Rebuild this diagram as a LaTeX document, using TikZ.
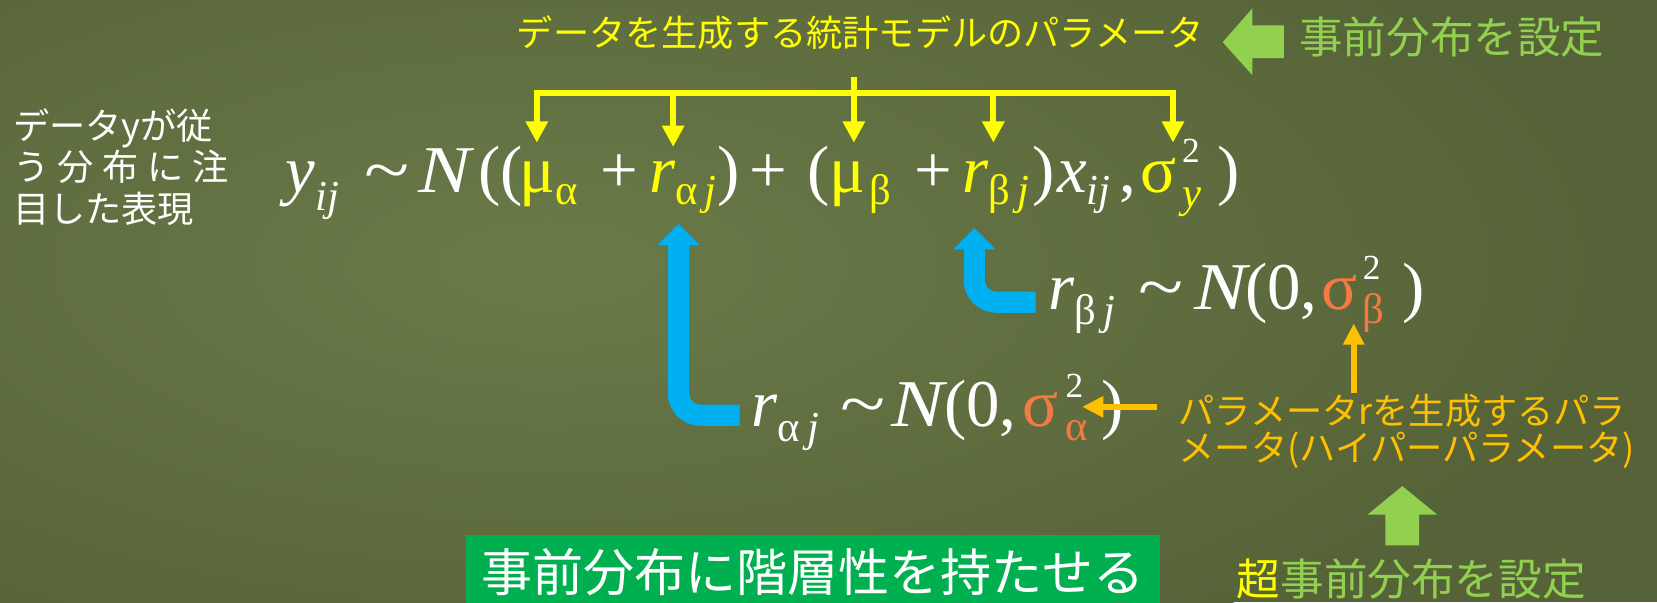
\documentclass[tikz,border=0pt]{standalone}
\usepackage{fontspec}
\usepackage{graphicx}
\setmainfont{Liberation Serif}
\newfontfamily\tms{Liberation Serif}
\newfontfamily\jp{Noto Sans CJK JP}
\usetikzlibrary{arrows.meta}
\definecolor{bg}{RGB}{86,99,56}
\definecolor{bglight}{RGB}{106,122,72}
\definecolor{yel}{RGB}{255,255,0}
\definecolor{lgreen}{RGB}{146,208,80}
\definecolor{cyanb}{RGB}{0,176,240}
\definecolor{amber}{RGB}{255,192,0}
\definecolor{coral}{RGB}{244,122,66}
\definecolor{dgreen}{RGB}{0,176,80}
\newcommand\eqf{\tms\fontsize{36}{36}\selectfont}
\newcommand\mysub[2]{\raisebox{-#1pt}{\fontsize{23}{23}\selectfont #2}}
\newcommand\mysup[2]{\raisebox{#1pt}{\fontsize{19}{19}\selectfont #2}}
\newcommand\tld{\scalebox{1.25}[1]{\textasciitilde}}
\newcommand\bigN{\scalebox{1.18}[1]{\textit{N}}}
\begin{document}
\begin{tikzpicture}[x=0.02cm,y=-0.02cm,
  eq/.style={anchor=base west, inner sep=0pt, text=white, font=\eqf},
  yarrow/.style={draw=yel, line width=3.2pt, -{Triangle[width=11.4pt,length=11.4pt]}},
  barrow/.style={draw=cyanb, line width=11.4pt, rounded corners=12pt, -{Triangle[width=22pt,length=11.4pt]}},
  oarrow/.style={draw=amber, line width=3.6pt, -{Triangle[width=10.8pt,length=11.4pt]}},
]
\useasboundingbox (0,0) rectangle (1568,570);
\fill[bg] (0,0) rectangle (1568,570);
\begin{scope}
\clip (0,0) rectangle (1568,570);
\shade[inner color=bglight, outer color=bg] (520,250) ellipse [x radius=1000, y radius=420];
\end{scope}

% title and prior
\node[inner sep=0pt, text=yel, font=\jp\fontsize{19.5}{19.5}\selectfont] (title) at (814,31) {データを生成する統計モデルのパラメータ};
\fill[lgreen] (1215,24) -- (1185,24) -- (1185,8) -- (1157,40) -- (1185,71) -- (1185,55) -- (1215,55) -- cycle;
\node[anchor=west, inner sep=0pt, text=lgreen, font=\jp\fontsize{23.5}{23.5}\selectfont] (prior) at (1229,35) {事前分布を設定};

% left text
\node[anchor=north west, inner sep=0pt, text=white, align=left, font=\jp\fontsize{19.5}{22.5}\selectfont] (left) at (12,102)
  {データyが従\\\hbox to 116pt{う\hfil 分\hfil 布\hfil に\hfil 注}\\目した表現};

% main equation
\node[eq] (ey) at (270,182) {\textit{y}\mysub{10}{\textit{ij}}};
\node[eq] (et) at (345,182) {\tld};
\node[eq] (eN) at (396,182) {\bigN};
\node[eq] (eo1) at (452,182) {((};
\node[eq, text=yel] (ema) at (491,182) {μ\mysub{6.5}{α}};
\node[eq] (ep1) at (568,182) {+};
\node[eq, text=yel] (era) at (614,182) {\textit{r}\mysub{6.5}{α\,\textit{j}}};
\node[eq] (ec1) at (679,182) {)};
\node[eq] (ep2) at (709,182) {+};
\node[eq] (eo2) at (764,182) {(};
\node[eq, text=yel] (emb) at (785,182) {μ\kern2pt\mysub{6.5}{β}};
\node[eq] (ep3) at (865,182) {+};
\node[eq, text=yel] (erb) at (910,182) {\textit{r}\mysub{6.5}{β\,\textit{j}}};
\node[eq] (ec2) at (977,182) {)};
\node[eq] (ex) at (1000,182) {\textit{x}\mysub{6.5}{\textit{ij}}};
\node[eq] (ecm) at (1059,182) {,};
\node[eq, text=yel] (esy) at (1079,182) {σ\kern3pt\rlap{\mysup{16}{\textcolor{white}{2}}}\mysub{8}{\textit{y}}};
\node[eq] (ec3) at (1152,182) {)};

% bracket
\coordinate (b0) at (808,73);
\coordinate (b1) at (508,88);
\coordinate (b2) at (637,88);
\coordinate (b3) at (808,88);
\coordinate (b4) at (940,88);
\coordinate (b5) at (1110,88);
\coordinate (t1) at (508,135);
\coordinate (t2) at (637,139);
\coordinate (t3) at (808,135);
\coordinate (t4) at (940,135);
\coordinate (t5) at (1110,135);
\draw[yel, line width=3.2pt] (b0) -- (b3);
\draw[yel, line width=3.2pt] ([xshift=-1.6pt]b1) -- ([xshift=1.6pt]b5);
\draw[yarrow] (b1) -- (t1);
\draw[yarrow] (b2) -- (t2);
\draw[yarrow] (b3) -- (t3);
\draw[yarrow] (b4) -- (t4);
\draw[yarrow] (b5) -- (t5);

% second equation
\node[eq] (rb2) at (992,293) {\textit{r}\mysub{8}{β\,\textit{j}}};
\node[eq] (t2e) at (1077,293) {\tld};
\node[eq] (N2) at (1130,293) {\bigN};
\node[eq] (p2) at (1178,293) {(0,};
\node[eq, text=coral] (s2) at (1250,293) {σ\kern3pt\rlap{\mysup{16}{\textcolor{white}{2}}}\mysub{7.5}{β}};
\node[eq] (c2) at (1327,293) {)};

% third equation
\node[eq] (ra3) at (711,404) {\textit{r}\mysub{8}{α\,\textit{j}}};
\node[eq] (t3e) at (795,404) {\tld};
\node[eq] (N3) at (843,404) {\bigN};
\node[eq] (p3) at (893,404) {(0,};
\node[eq, text=coral] (s3) at (967,404) {σ\kern4pt\rlap{\mysup{16}{\textcolor{white}{2}}}\mysub{7.5}{α}};
\node[eq] (c3) at (1042,404) {)};

% blue arrows
\coordinate (ba1) at (700,393);
\coordinate (ba2) at (980,286);
\draw[barrow] (ba1) -- (642,393) -- (642,212);
\draw[barrow] (ba2) -- (922,286) -- (922,216);

% hyper-parameter text and arrows
\node[anchor=west, inner sep=0pt, text=amber, font=\jp\fontsize{19.5}{19.5}\selectfont] (hyp1) at (1115,389) {パラメータrを生成するパラ};
\node[anchor=west, inner sep=0pt, text=amber, font=\jp\fontsize{19.5}{19.5}\selectfont] (hyp2) at (1115,426) {メータ(ハイパーパラメータ)};
\draw[oarrow] (1095,385) -- (1024,385);
\draw[oarrow, line width=3pt] (1281,372) -- (1281,306);

% hyper prior
\fill[lgreen] (1311,516) -- (1311,487) -- (1294,487) -- (1327,460) -- (1360,487) -- (1343,487) -- (1343,516) -- cycle;
\node[anchor=west, inner sep=0pt, font=\jp\fontsize{23.5}{23.5}\selectfont] (hprior) at (1170,548) {\textcolor{yel}{超}\textcolor{lgreen}{事前分布を設定}};

% green box
\node[anchor=north west, fill=dgreen, inner sep=0pt, minimum width=13.12cm, minimum height=1.4cm, text=white, font=\jp\fontsize{27.5}{27.5}\selectfont] (box) at (441,506) {事前分布に階層性を持たせる};
\end{tikzpicture}
\end{document}
